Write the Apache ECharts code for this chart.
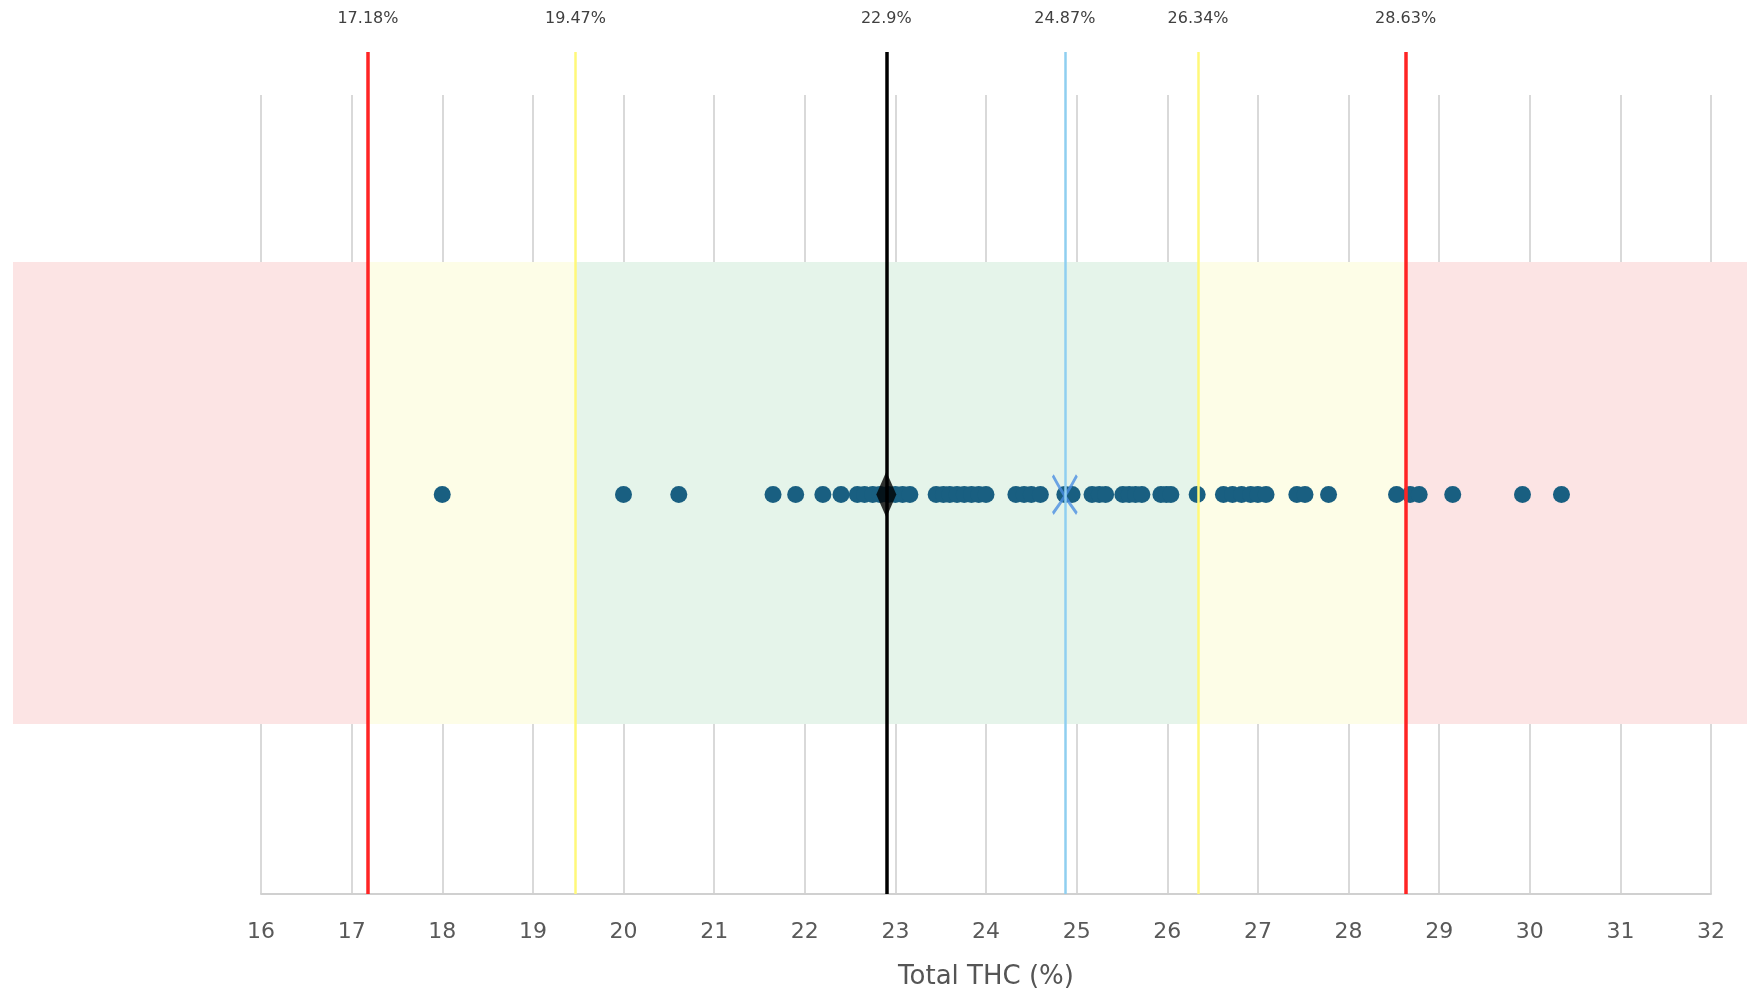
<!DOCTYPE html>
<html><head><meta charset="utf-8">
<script src="https://cdn.jsdelivr.net/npm/echarts@6/dist/echarts.min.js"></script>
<style>html,body{margin:0;padding:0;background:#fff}#c{width:1747px;height:993px}</style>
</head><body><div id="c"></div>
<script>
// ---- data ----
const thcValues = [18.0, 20.0, 20.61, 21.65, 21.9, 22.2, 22.4, 22.58, 22.66, 22.75, 22.83, 22.92, 23.0, 23.08, 23.16,
  23.45, 23.53, 23.6, 23.68, 23.76, 23.84, 23.92, 24.0, 24.33, 24.42, 24.5, 24.6, 24.87, 24.95, 25.17, 25.25, 25.32,
  25.51, 25.58, 25.65, 25.72, 25.93, 25.99, 26.04, 26.33, 26.62, 26.72, 26.82, 26.92, 27.0, 27.09, 27.43, 27.52,
  27.78, 28.53, 28.68, 28.78, 29.15, 29.92, 30.35];
const limitValues = [17.18, 19.47, 22.9, 24.87, 26.34, 28.63];
const limitLabels = ['17.18%', '19.47%', '22.9%', '24.87%', '26.34%', '28.63%'];
const targetValue = 22.9;
const centerValue = 24.87;
const axisMin = 16, axisMax = 32, axisStep = 1;
const axisTitle = 'Total THC (%)';

// ---- styles / layout ----
const limitColors = ['#ff2424', '#fff87a', '#000000', '#8fcff0', '#fff87a', '#ff2424'];
const limitWidths = [3.5, 2.5, 3.5, 2.5, 2.5, 3.5];
const PINK = '#fce4e4', YEL = '#fdfde7', GRN = '#e5f4ea';
const W = 1747, H = 993;
const gridLeft = 261, gridRight = 36, gridTop = 95, gridBottom = 99;
const bandLeft = 13, lineTop = 52, bandTopPx = 262, bandBottomPx = 724;

const k = (W - gridLeft - gridRight) / (axisMax - axisMin);
const min1 = axisMin - (gridLeft - bandLeft) / k;
const max1 = axisMax + gridRight / k;
const axisBottomPx = H - gridBottom;
const span1 = axisBottomPx - lineTop;
const bandLo = (axisBottomPx - bandBottomPx) / span1;
const bandHi = (axisBottomPx - bandTopPx) / span1;

const edges = [min1, limitValues[0], limitValues[1], limitValues[4], limitValues[5], max1];
const bandColors = [PINK, YEL, GRN, YEL, PINK];
const bandData = bandColors.map((c, i) => [
  { xAxis: edges[i], yAxis: bandLo, itemStyle: { color: c } },
  { xAxis: edges[i + 1], yAxis: bandHi }
]);

const chart = echarts.init(document.getElementById('c'), null, { renderer: 'canvas' });
chart.setOption({
  animation: false,
  backgroundColor: '#ffffff',
  grid: [
    { left: gridLeft, right: gridRight, top: gridTop, bottom: gridBottom, containLabel: false, outerBoundsMode: 'none' },
    { left: bandLeft, right: 0, top: lineTop, bottom: gridBottom, containLabel: false, outerBoundsMode: 'none' }
  ],
  xAxis: [
    {
      gridIndex: 0, type: 'value', min: axisMin, max: axisMax, interval: axisStep, z: 1,
      name: axisTitle, nameLocation: 'middle', nameGap: 70,
      nameTextStyle: { fontFamily: 'DejaVu Sans', fontSize: 26, color: '#555555' },
      axisLine: { show: true, lineStyle: { color: '#d0d0d0', width: 2 } },
      axisTick: { show: false },
      axisLabel: { fontFamily: 'DejaVu Sans', fontSize: 22, color: '#595959', margin: 27 },
      splitLine: { show: true, showMinLine: true, showMaxLine: true, lineStyle: { color: '#d9d9d9', width: 2 } }
    },
    { gridIndex: 1, type: 'value', min: min1, max: max1, show: false, splitLine: { show: false } }
  ],
  yAxis: [
    { gridIndex: 0, type: 'value', min: 0, max: 1, show: false, splitLine: { show: false } },
    { gridIndex: 1, type: 'value', min: 0, max: 1, show: false, splitLine: { show: false } }
  ],
  series: [
    {
      type: 'scatter', xAxisIndex: 1, yAxisIndex: 1, data: [], z: 0, silent: true,
      markArea: { silent: true, data: bandData }
    },
    {
      type: 'scatter', xAxisIndex: 0, yAxisIndex: 0, z: 2, symbol: 'circle', symbolSize: 17,
      itemStyle: { color: '#195f81', opacity: 1 },
      data: thcValues.map(v => [v, 0.5])
    },
    {
      type: 'scatter', xAxisIndex: 1, yAxisIndex: 1, data: [], z: 3, silent: true,
      markLine: {
        silent: true, symbol: 'none',
        label: { show: true, position: 'end', distance: 25, fontFamily: 'DejaVu Sans', fontSize: 16, color: '#404040' },
        data: limitValues.map((v, i) => ({
          xAxis: v,
          lineStyle: { color: limitColors[i], width: limitWidths[i], type: 'solid' },
          label: { formatter: limitLabels[i] }
        }))
      }
    },
    {
      type: 'scatter', xAxisIndex: 0, yAxisIndex: 0, z: 4, symbol: 'diamond', symbolSize: [20, 46],
      itemStyle: { color: '#000000' },
      data: [[targetValue, 0.5]]
    },
    {
      type: 'scatter', xAxisIndex: 0, yAxisIndex: 0, z: 4,
      symbol: 'path://M0,0 Q10,18 24,36 M24,0 Q14,18 0,36', symbolSize: [24, 38],
      itemStyle: { color: 'none', borderColor: '#4b8fe2', borderWidth: 3 },
      data: [[centerValue, 0.5]]
    }
  ]
});
</script>
</body></html>
